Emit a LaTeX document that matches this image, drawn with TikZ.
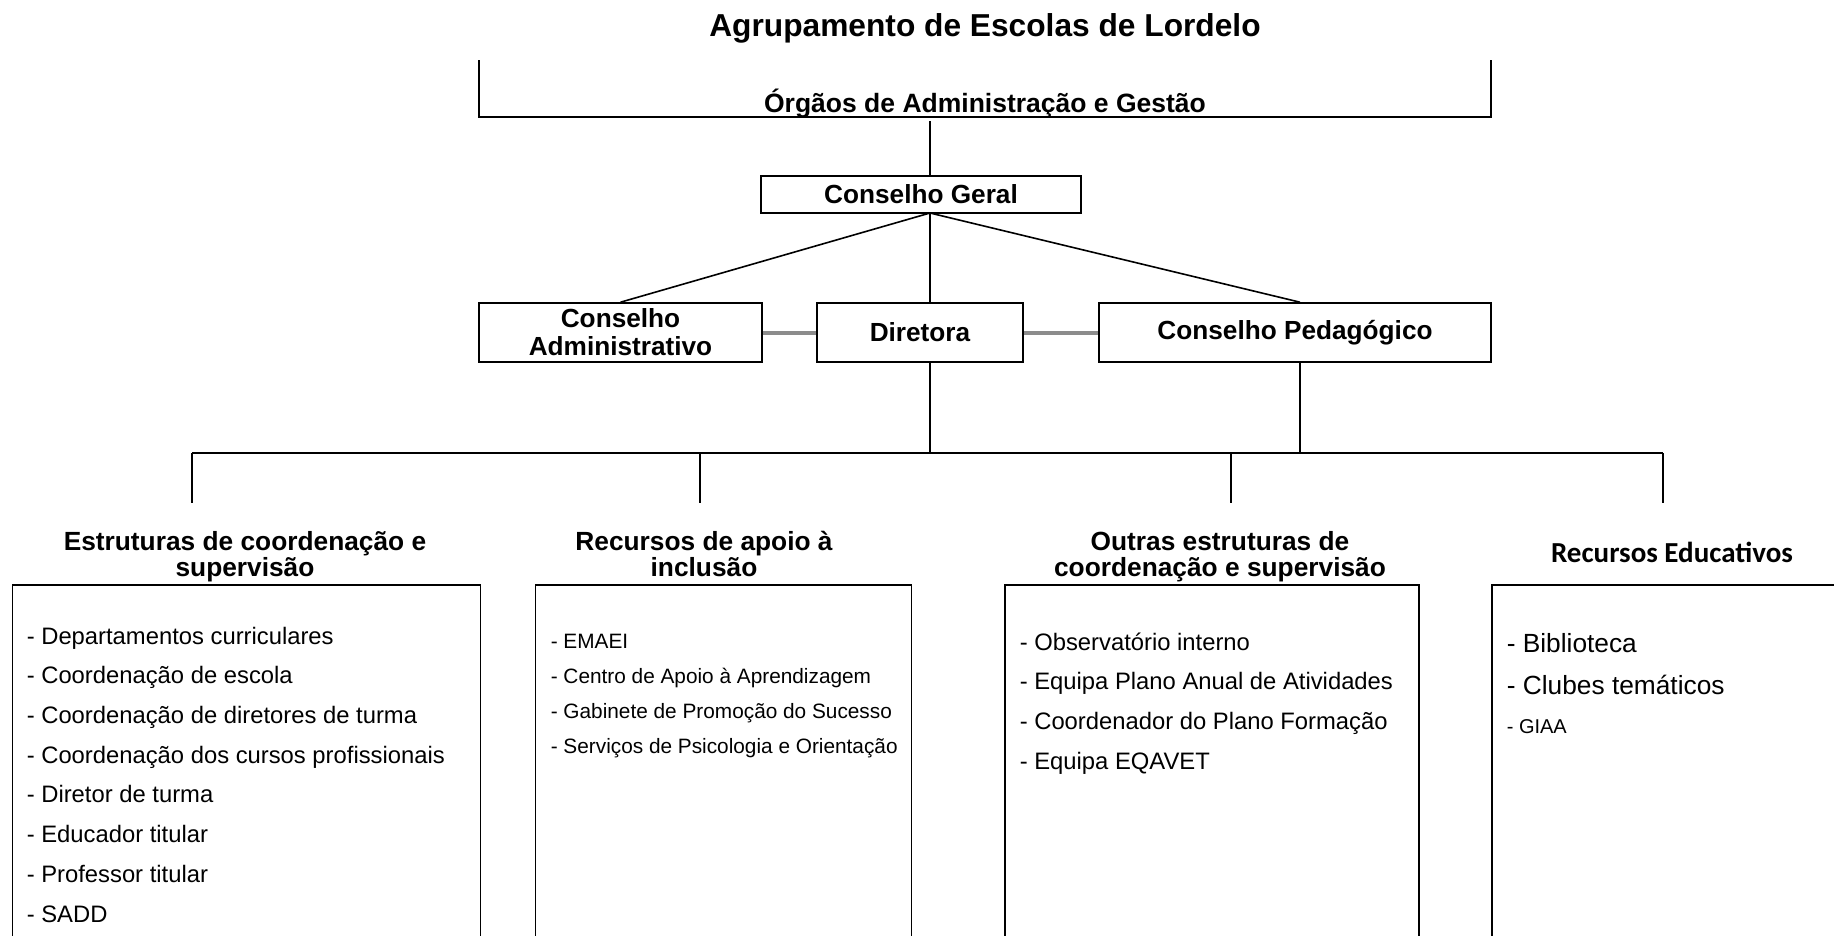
\documentclass[tikz,border=0pt]{standalone}
\usepackage{fontspec}
\setmainfont{Liberation Sans}
\newfontfamily\calibri{Carlito}

\begin{document}
\begin{tikzpicture}[x=1pt, y=-1pt, line width=1.6pt,
    box_style/.style = {draw, rectangle, inner sep=0pt, align=center,
        font=\bfseries\fontsize{26.2}{28}\selectfont},
    head_style/.style = {anchor=base, inner sep=0pt, align=center,
        font=\bfseries\fontsize{26.3}{26}\selectfont},
    list_style/.style = {draw, rectangle, anchor=north west, inner sep=0pt,
        minimum height=420pt},
    item_style/.style = {anchor=base west, inner sep=0pt, align=left},
    link_style/.style = {draw=black!45, line width=4pt}]

\useasboundingbox (0,0) rectangle (1834,935);
\clip (0,0) rectangle (1834,935);

% title
\node[anchor=base, inner sep=0pt, font=\bfseries\fontsize{31.7}{32}\selectfont] (0)
    at (985,36) {Agrupamento de Escolas de Lordelo};

% bracket: Órgãos de Administração e Gestão
\draw (479,60) -- (479,117) -- (1491,117) -- (1491,60);
\node[anchor=base, inner sep=0pt, font=\bfseries\fontsize{26.5}{27}\selectfont] (1)
    at (985,112) {Órgãos de Administração e Gestão};

\node[box_style, minimum width=320pt, minimum height=37pt] (2) at (921,194.5) {Conselho Geral};

\node[box_style, minimum width=283pt, minimum height=59pt] (3) at (620.5,332.5) {Conselho\\Administrativo};
\node[box_style, minimum width=206pt, minimum height=59pt] (4) at (920,332.5) {Diretora};
\node[box_style, minimum width=392pt, minimum height=59pt] (5) at (1295,332.5) {Conselho Pedagógico};

% bracket to Conselho Geral
\coordinate (t) at (930,121);
\draw (t) -- (t |- 2.north);

% Conselho Geral to the three below
\coordinate (f) at (930,213);
\draw (f) -- (3.north);
\draw (f) -- (f |- 4.north);
\draw (f) -- ([xshift=5pt]5.north);

% side links to Diretora
\draw[link_style] (3) -- (4);
\draw[link_style] (4) -- (5);

% down to the structures
\coordinate (h1) at (192,453);
\coordinate (h2) at (700,453);
\coordinate (h3) at (1231,453);
\coordinate (h4) at (1663,453);
\draw (f |- 4.south) -- (f |- h1);
\draw ([xshift=5pt]5.south) -- ([xshift=5pt]5.south |- h1);
\draw (h1) -- (h4);
\draw (h1) -- ++(0,50);
\draw (h2) -- ++(0,50);
\draw (h3) -- ++(0,50);
\draw (h4) -- ++(0,50);

% headings (base = last line)
\node[head_style] (6) at (245,576) {Estruturas de coordenação e\\supervisão};
\node[head_style] (7) at (704,576) {Recursos de apoio à\\inclusão};
\node[head_style] (8) at (1220,576) {Outras estruturas de\\coordenação e supervisão};
\node[head_style, font=\calibri\bfseries\fontsize{29}{30}\selectfont] (9) at (1672,562) {Recursos Educativos};

% boxes
\node[list_style, minimum width=468pt] (10) at (11.5,584) {};
\node[list_style, minimum width=376pt] (11) at (534.5,584) {};
\node[list_style, minimum width=414pt] (12) at (1004,584) {};
\node[list_style, minimum width=500pt] (13) at (1491,584) {};

% lists (base = last line)
\node[item_style, font=\fontsize{23.8}{39.7}\selectfont] (14) at (26,922) {%
    - Departamentos curriculares\\
    - Coordenação de escola\\
    - Coordenação de diretores de turma\\
    - Coordenação dos cursos profissionais\\
    - Diretor de turma\\
    - Educador titular\\
    - Professor titular\\
    - SADD};

\node[item_style, font=\fontsize{20.8}{34.8}\selectfont] (15) at (550,753) {%
    - EMAEI\\
    - Centro de Apoio à Aprendizagem\\
    - Gabinete de Promoção do Sucesso\\
    - Serviços de Psicologia e Orientação};

\node[item_style, font=\fontsize{23.8}{39.6}\selectfont] (16) at (1019,769) {%
    - Observatório interno\\
    - Equipa Plano Anual de Atividades\\
    - Coordenador do Plano Formação\\
    - Equipa EQAVET};

\node[item_style, font=\fontsize{26.3}{42.5}\selectfont] (17) at (1506,733) {%
    - Biblioteca\\
    - Clubes temáticos\\[-4pt]
    {\fontsize{20}{20}\selectfont - GIAA}};

\end{tikzpicture}
\end{document}
